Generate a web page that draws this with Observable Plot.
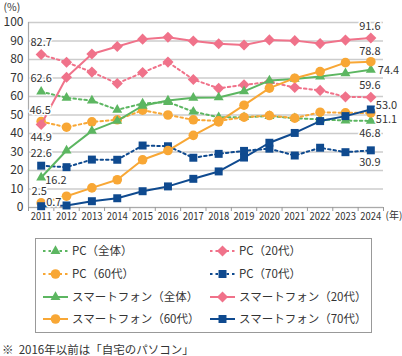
<!DOCTYPE html>
<html><head><meta charset="utf-8">
<script src="https://cdn.jsdelivr.net/npm/d3@7"></script>
<script src="https://cdn.jsdelivr.net/npm/@observablehq/plot@0.6"></script>
<style>
body{margin:0;background:#fff;font-family:"Noto Sans CJK JP",sans-serif;color:#333;}
#wrap{width:402px;height:356px;position:relative;overflow:hidden;background:#fff}
#chart{position:absolute;left:0;top:0}
#legend{position:absolute;left:35px;top:238px}
#note{position:absolute;left:2px;top:342px;font-size:11.5px;line-height:15px;color:#333;white-space:nowrap}
</style></head><body>
<div id="wrap"><div id="chart"></div><div id="legend"></div><div id="note">※&nbsp; 2016年以前は「自宅のパソコン」</div></div>
<script>
const years = [2011,2012,2013,2014,2015,2016,2017,2018,2019,2020,2021,2022,2023,2024];
const yTicks = [0,10,20,30,40,50,60,70,80,90,100];

const pcAll = [62.6,59.3,57.8,52.8,56.2,57.0,51.8,48.8,48.8,49.4,48.3,47.6,47.0,46.8];
const pc20  = [82.7,78.5,73.2,67.0,73.0,78.6,69.2,64.4,66.3,67.8,64.9,63.3,59.8,59.6];
const pc60  = [46.5,43.4,46.3,47.4,52.6,50.0,47.4,46.8,48.8,49.7,48.3,51.5,51.2,51.1];
const pc70  = [22.6,21.8,25.9,25.8,33.5,33.1,26.9,29.0,30.6,31.8,28.1,32.3,29.9,30.9];
const spAll = [16.2,30.8,41.4,46.8,55.0,57.8,59.3,59.5,62.8,68.6,69.5,70.8,72.5,74.4];
const sp20  = [44.9,70.4,83.0,87.0,91.0,92.0,90.0,88.5,87.8,90.6,90.2,88.6,90.5,91.6];
const sp60  = [2.5,6.1,10.6,15.0,25.8,30.8,39.0,46.3,55.3,64.5,69.9,73.5,78.3,78.8];
const sp70  = [0.7,1.1,3.4,5.0,8.8,11.4,15.5,19.5,27.0,35.0,40.3,46.7,49.4,53.0];

const names = {
  pcAll:"PC（全体）", pc20:"PC（20代）", pc60:"PC（60代）", pc70:"PC（70代）",
  spAll:"スマートフォン（全体）", sp20:"スマートフォン（20代）", sp60:"スマートフォン（60代）", sp70:"スマートフォン（70代）"
};
const seriesData = {pcAll, pc20, pc60, pc70, spAll, sp20, sp60, sp70};

const GREEN="#5cb661", PINK="#f0728a", ORANGE="#f8a735", NAVY="#0f4a8f";
const styles = {
  pcAll:{color:GREEN, symbol:"triangle", r:3.7, dash:true},
  pc20:{color:PINK, symbol:"diamond2", r:5, dash:true},
  pc60:{color:ORANGE, symbol:"circle", r:4.8, dash:true},
  pc70:{color:NAVY, symbol:"square", r:4.5, dash:true},
  spAll:{color:GREEN, symbol:"triangle", r:3.7, dash:false},
  sp20:{color:PINK, symbol:"diamond2", r:5, dash:false},
  sp60:{color:ORANGE, symbol:"circle", r:4.8, dash:false},
  sp70:{color:NAVY, symbol:"square", r:4.5, dash:false}
};
const order = ["pcAll","pc20","pc60","pc70","spAll","sp20","sp60","sp70"];

// which series & year index get a value label; placement kept separately
const labelList = [
  {key:"pc20", i:0}, {key:"pcAll", i:0}, {key:"pc60", i:0}, {key:"sp20", i:0},
  {key:"pc70", i:0}, {key:"spAll", i:0}, {key:"sp60", i:0}, {key:"sp70", i:0},
  {key:"sp20", i:13}, {key:"sp60", i:13}, {key:"spAll", i:13}, {key:"pc20", i:13},
  {key:"sp70", i:13}, {key:"pc60", i:13}, {key:"pcAll", i:13}, {key:"pc70", i:13}
];
const placement = {
  "pc20-0":[0,-12,"middle"], "pcAll-0":[0,-13,"middle"], "pc60-0":[-1,-11,"middle"], "sp20-0":[0,13,"middle"],
  "pc70-0":[0,-12,"middle"], "spAll-0":[4,3,"start"], "sp60-0":[-2,-11,"middle"], "sp70-0":[5,-4,"start"],
  "sp20-13":[-1,-12,"middle"], "sp60-13":[-1,-10,"middle"], "spAll-13":[7,1,"start"], "pc20-13":[-1,-12,"middle"],
  "sp70-13":[5,-4,"start"], "pc60-13":[5,7,"start"], "pcAll-13":[-1,13,"middle"], "pc70-13":[-1,12,"middle"]
};

const fmt = d3.format(".1f");
const rowsFor = k => years.map((y,i)=>({year:y, value:seriesData[k][i]}));
const halfTicks = years.map(y=>y-0.5).concat([years[years.length-1]+0.5]);

const marks = [
  Plot.gridY(yTicks, {stroke:"#cccccc", strokeOpacity:1, strokeWidth:1.3}),
  Plot.ruleX([years[0]-0.5], {stroke:"#aaaaaa", strokeWidth:1.2}),
  Plot.ruleY([0], {stroke:"#aaaaaa", strokeWidth:1.2}),
  Plot.axisY(yTicks, {tickSize:0, tickPadding:5, fontSize:12, label:null, fill:"#333"}),
  Plot.axisX(years, {tickSize:0, tickPadding:5, fontSize:11, label:null, tickFormat:d=>String(d), fill:"#333"}),
  Plot.axisX(halfTicks, {tickSize:4, tickFormat:()=>"", label:null, stroke:"#999"})
];
for (const k of order) {
  const s = styles[k];
  marks.push(Plot.line(rowsFor(k), {x:"year", y:"value", stroke:s.color, strokeWidth:2, strokeDasharray: s.dash ? "2.5,3" : null}));
  marks.push(Plot.dot(rowsFor(k), {x:"year", y:"value", symbol:s.symbol, r:s.r, fill:s.color, stroke:"none"}));
}
for (const l of labelList) {
  const [dx,dy,anchor] = placement[`${l.key}-${l.i}`];
  marks.push(Plot.text([l], {x:d=>years[d.i], y:d=>seriesData[d.key][d.i], text:d=>fmt(seriesData[d.key][d.i]),
    dx, dy, textAnchor:anchor, fontSize:11, fill:"#333", stroke:"white", strokeWidth:3}));
}
marks.push(Plot.text(["(%)"], {frameAnchor:"top-left", dx:-25, dy:-19, textAnchor:"start", fontSize:10.5, fill:"#333"}));
marks.push(Plot.text(["(年)"], {frameAnchor:"bottom-right", dx:2, dy:11, textAnchor:"start", fontSize:10, fill:"#333"}));

const chart = Plot.plot({
  width:402, height:228,
  marginLeft:28, marginRight:19, marginTop:22, marginBottom:21,
  style:{fontFamily:"'Noto Sans CJK JP',sans-serif", background:"transparent", overflow:"visible"},
  x:{type:"linear", domain:[years[0]-0.5, years[years.length-1]+0.5], axis:null},
  y:{domain:[0,100], axis:null},
  marks
});
document.getElementById("chart").appendChild(chart);
// condense the year tick labels like the narrow face of the original
d3.select(chart).selectAll("text").filter(function(){ return /^\d{4}$/.test(this.textContent.trim()); })
  .attr("textLength", 21).attr("lengthAdjust", "spacingAndGlyphs");

// legend
const LW=337, LH=95;
const lg = d3.select("#legend").append("svg").attr("width",LW).attr("height",LH)
  .style("font-family","'Noto Sans CJK JP',sans-serif");
lg.append("rect").attr("x",0.5).attr("y",0.5).attr("width",LW-1).attr("height",LH-1)
  .attr("fill","white").attr("stroke","#999").attr("stroke-width",1);
const symMap = {triangle:d3.symbolTriangle, diamond2:d3.symbolDiamond2, circle:d3.symbolCircle, square:d3.symbolSquare};
const rowY = [13,36,59,81];
order.forEach((k,idx)=>{
  const s = styles[k];
  const col = idx%2, row = Math.floor(idx/2);
  const x0 = col===0 ? 8 : 175, y = rowY[row];
  lg.append("line").attr("x1",x0).attr("x2",x0+25).attr("y1",y).attr("y2",y)
    .attr("stroke",s.color).attr("stroke-width",2).attr("stroke-dasharray", s.dash ? "2.5,3" : null);
  lg.append("path").attr("d", d3.symbol(symMap[s.symbol], s.r*s.r*Math.PI)()).attr("transform",`translate(${x0+12.5},${y})`).attr("fill",s.color);
  lg.append("text").attr("x",x0+29).attr("y",y).attr("dy","0.36em").attr("font-size",11.5).attr("fill","#333").text(names[k]);
});
</script></body></html>
